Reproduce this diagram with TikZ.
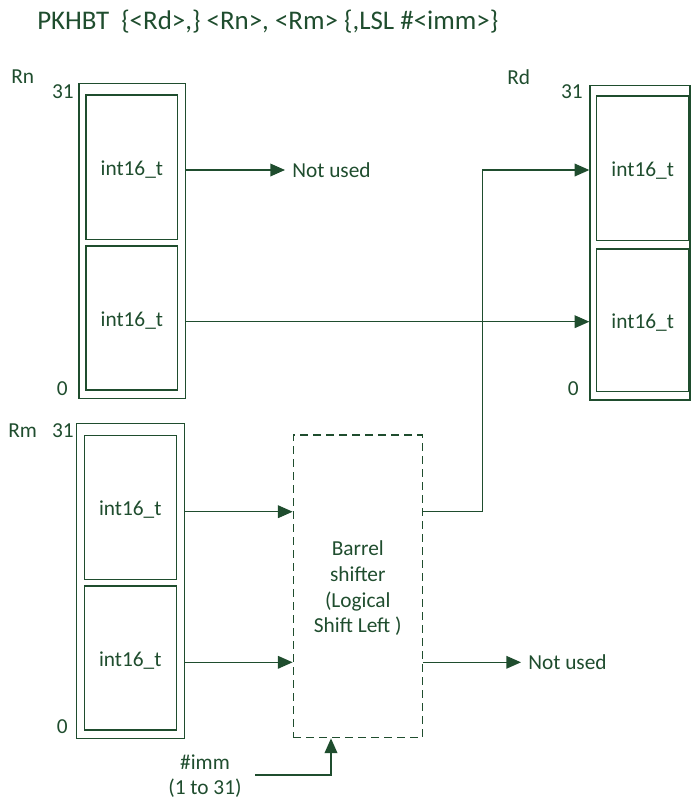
\documentclass[tikz,border=0pt]{standalone}
\usepackage{fontspec}
\setmainfont{Carlito}
\usetikzlibrary{arrows.meta,fit,calc}
\definecolor{ink}{HTML}{1F4D2E}
\begin{document}
\begin{tikzpicture}[x=0.75pt,y=-0.75pt,
  every node/.style={text=ink, font=\fontsize{16}{19.2}\selectfont},
  regbox/.style={draw=ink, line width=1pt, inner sep=0pt},
  lbl/.style={inner sep=0pt},
  halftext/.style={inner sep=0pt, anchor=base},
  arr/.style={draw=ink, line width=1pt, -{Triangle[length=11pt,width=9.5pt]}},
  shifterbox/.style={draw=ink, line width=1pt, dash pattern=on 6pt off 3.75pt, inner sep=0pt}]
\useasboundingbox (0,0) rectangle (691,801);

% title
\node[lbl, anchor=base west, font=\fontsize{20.2}{24}\selectfont] (title) at (37,29) {PKHBT\ \ \{<Rd>,\} <Rn>, <Rm> \{,LSL \#<imm>\}};

% Rn register
\node[regbox, fit={(79,83.3) (185.7,398.3)}] (rn) {};
\node[regbox, fit={(86,95) (177.7,239.3)}] (rnhi) {};
\node[regbox, fit={(86,246) (177.7,390)}] (rnlo) {};
\node[halftext] (rnhit) at ($(rnhi.center)+(0,8)$) {int16\_t};
\node[halftext] (rnlot) at ($(rnlo.center)+(0,8)$) {int16\_t};
\node[lbl, anchor=west] (rnname) at (11,77) {Rn};
\node[lbl, anchor=east] (rn31) at (74,92) {31};
\node[lbl, anchor=east] (rn0) at (68,389) {0};

% Rd register
\node[regbox, fit={(590,85.7) (690,400)}] (rd) {};
\node[regbox, fit={(596.7,96) (688.7,240.7)}] (rdhi) {};
\node[regbox, fit={(596.7,249) (688.7,391.7)}] (rdlo) {};
\node[halftext] (rdhit) at ($(rdhi.center)+(0,8)$) {int16\_t};
\node[halftext] (rdlot) at ($(rdlo.center)+(0,8)$) {int16\_t};
\node[lbl, anchor=west] (rdname) at (507,77) {Rd};
\node[lbl, anchor=east] (rd31) at (583,92) {31};
\node[lbl, anchor=east] (rd0) at (579,389) {0};

% Rm register
\node[regbox, fit={(76.7,423.3) (184.3,738.3)}] (rm) {};
\node[regbox, fit={(84.3,435.3) (176.3,579.3)}] (rmhi) {};
\node[regbox, fit={(84.3,586) (176.3,730)}] (rmlo) {};
\node[halftext] (rmhit) at ($(rmhi.center)+(0,8)$) {int16\_t};
\node[halftext] (rmlot) at ($(rmlo.center)+(0,8)$) {int16\_t};
\node[lbl, anchor=west] (rmname) at (8,431) {Rm};
\node[lbl, anchor=east] (rm31) at (74,431) {31};
\node[lbl, anchor=east] (rm0) at (68,727) {0};

% barrel shifter
\node[shifterbox, fit={(293.3,435) (422.3,737.7)}] (sh) {};
\node[lbl, align=center] (shtext) at ($(sh.center)+(0,2)$) {Barrel\\shifter\\(Logical\\Shift Left )};

% not used labels
\node[lbl, anchor=west] (nu1) at (292,170) {Not used};
\node[lbl, anchor=west] (nu2) at (528,662) {Not used};

% imm
\node[lbl, align=center] (imm) at (205,776) {\#imm\\(1 to 31)};
\coordinate (immstart) at (255,775);
\coordinate (immup) at (331,775);
\coordinate (junc) at (482.3,0);

% connectors
\coordinate (y1) at (0,170);
\coordinate (y2) at (0,321.7);
\coordinate (y3) at (0,511.7);
\coordinate (y4) at (0,662.3);
\draw[arr] (rn.east |- y1) -- ($(nu1.west |- y1)+(-7,0)$);
\draw[arr] (rn.east |- y2) -- (rd.west |- y2);
\draw[arr] (rm.east |- y3) -- (sh.west |- y3);
\draw[arr] (rm.east |- y4) -- (sh.west |- y4);
\draw[arr] (sh.east |- y4) -- ($(nu2.west |- y4)+(-7,0)$);
\draw[arr] (sh.east |- y3) -- (junc |- y3) -- (junc |- y1) -- (rd.west |- y1);
\draw[arr] (immstart) -- (immup) -- (immup |- sh.south);
\end{tikzpicture}
\end{document}
